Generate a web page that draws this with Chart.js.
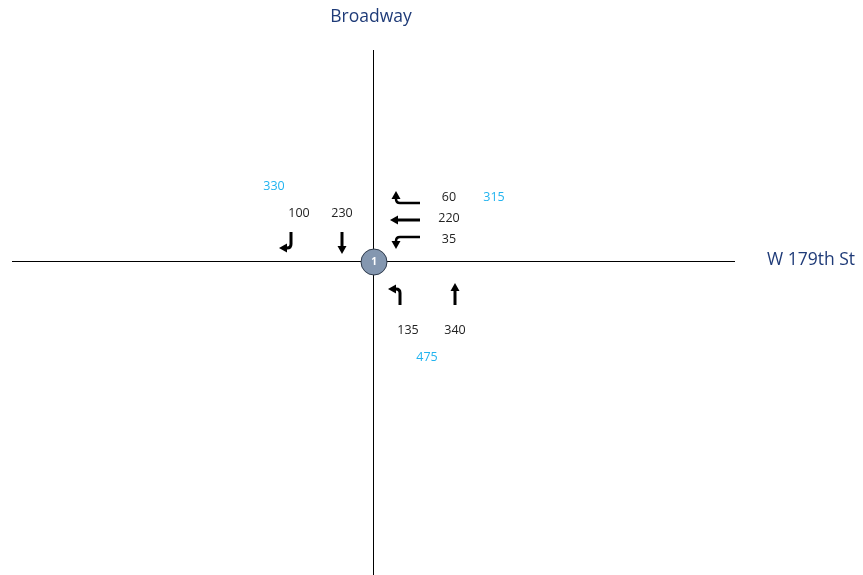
<!DOCTYPE html>
<html>
<head>
<meta charset="utf-8">
<script src="https://cdn.jsdelivr.net/npm/chart.js@4/dist/chart.umd.min.js"></script>
<style>
  html, body { margin: 0; padding: 0; background: #fff; }
  #wrap { position: relative; width: 863px; height: 575px; }
</style>
</head>
<body>
<div id="wrap"><canvas id="c" width="863" height="575"></canvas></div>
<script>
'use strict';

// street names (north-south, east-west)
const streetNames = ['Broadway', 'W 179th St'];
const nodeIds = ['1'];

// southbound approach
const sbMoves = ['right', 'thru'];
const sbVolumes = [100, 230];
const sbTotal = 330;

// westbound approach
const wbMoves = ['right', 'thru', 'left'];
const wbVolumes = [60, 220, 35];
const wbTotal = 315;

// northbound approach
const nbMoves = ['left', 'thru'];
const nbVolumes = [135, 340];
const nbTotal = 475;

// layout (diagram units == pixels of the 863x575 sheet)
const W = 863, H = 575;
const node = {x: 374, y: 262};
const roadNS = [{x: 373.5, y: 50}, {x: 373.5, y: 575}];
const roadEW = [{x: 12, y: 261.5}, {x: 735, y: 261.5}];

const approachLayout = {
    SB: {heading: Math.PI, arrowX: [295, 342], arrowY: 242, labelX: [299, 342], labelY: 213, totalX: 274, totalY: 186},
    WB: {heading: -Math.PI / 2, arrowX: 406, arrowY: [199, 220, 241], labelX: 449, labelY: [197, 218, 239], totalX: 494, totalY: 197},
    NB: {heading: 0, arrowX: [404, 455], arrowY: 295, labelX: [408, 455], labelY: 330, totalX: 427, totalY: 357}
};

const FONT = '"Open Sans", "Liberation Sans", sans-serif';
const NUM_COLOR = '#222222';
const TOTAL_COLOR = '#21B3EF';
const NAME_COLOR = '#1F3B78';

// draw one movement arrow, defined heading north, then rotated
function drawArrow(ctx, x, y, heading, move, horizontal)
{
    ctx.save();
    ctx.translate(x, y);
    ctx.rotate(heading);
    ctx.strokeStyle = '#000';
    ctx.fillStyle = '#000';
    ctx.lineWidth = (horizontal && move !== 'thru') ? 2.5 : 3;
    ctx.lineCap = 'butt';
    const L = horizontal ? 14 : 10;
    const head = (hx, hy, ang) =>
    {
        ctx.save();
        ctx.translate(hx, hy);
        ctx.rotate(ang);
        ctx.beginPath();
        ctx.moveTo(0, -5);
        ctx.lineTo(4.5, 3);
        ctx.lineTo(-4.5, 3);
        ctx.closePath();
        ctx.fill();
        ctx.restore();
    };
    ctx.beginPath();
    if (move === 'thru')
    {
        ctx.moveTo(0, L);
        ctx.lineTo(0, -L + 5);
        ctx.stroke();
        head(0, -L + 3, 0);
    }
    else
    {
        const s = move === 'left' ? -1 : 1;
        const off = horizontal ? -s * 4 : s * 4;
        const top = -L + 4;
        ctx.moveTo(off, L);
        ctx.lineTo(off, top + 4);
        ctx.quadraticCurveTo(off, top, off + s * 4, top);
        ctx.lineTo(off + s * 5, top);
        ctx.stroke();
        head(off + s * 7, top, s * Math.PI / 2);
    }
    ctx.restore();
}

const diagramPlugin = {
    id: 'diagram',
    afterDatasetsDraw(chart)
    {
        const ctx = chart.ctx;
        const sx = chart.scales.x, sy = chart.scales.y;
        const px = v => sx.getPixelForValue(v);
        const py = v => sy.getPixelForValue(v);
        const text = (t, x, y, color, size, weight) =>
        {
            ctx.fillStyle = color;
            ctx.font = (weight || 'normal') + ' ' + size + 'px ' + FONT;
            ctx.fillText(String(t), px(x), py(y));
        };
        ctx.save();
        ctx.textAlign = 'center';
        ctx.textBaseline = 'middle';

        // street names
        text(streetNames[0], 371, 17, NAME_COLOR, 17.5);
        ctx.textAlign = 'left';
        text(streetNames[1], 767, 260, NAME_COLOR, 17.5);
        ctx.textAlign = 'center';

        // node id
        text(nodeIds[0], node.x, node.y, '#fff', 10, 'bold');

        // SB
        let a = approachLayout.SB;
        sbMoves.forEach((m, i) =>
        {
            drawArrow(ctx, px(a.arrowX[i]), py(a.arrowY), a.heading, m, false);
            text(sbVolumes[i], a.labelX[i], a.labelY, NUM_COLOR, 12.5);
        });
        text(sbTotal, a.totalX, a.totalY, TOTAL_COLOR, 12.5);

        // WB
        a = approachLayout.WB;
        wbMoves.forEach((m, i) =>
        {
            drawArrow(ctx, px(a.arrowX), py(a.arrowY[i]), a.heading, m, true);
            text(wbVolumes[i], a.labelX, a.labelY[i], NUM_COLOR, 12.5);
        });
        text(wbTotal, a.totalX, a.totalY, TOTAL_COLOR, 12.5);

        // NB
        a = approachLayout.NB;
        nbMoves.forEach((m, i) =>
        {
            drawArrow(ctx, px(a.arrowX[i]), py(a.arrowY), a.heading, m, false);
            text(nbVolumes[i], a.labelX[i], a.labelY, NUM_COLOR, 12.5);
        });
        text(nbTotal, a.totalX, a.totalY, TOTAL_COLOR, 12.5);

        ctx.restore();
    }
};

new Chart(document.getElementById('c'), {
    type: 'scatter',
    data: {
        datasets: [
            {data: roadNS, showLine: true, borderColor: '#000', borderWidth: 1, pointRadius: 0, order: 2},
            {data: roadEW, showLine: true, borderColor: '#000', borderWidth: 1, pointRadius: 0, order: 2},
            {data: [node], pointRadius: 13, pointBackgroundColor: '#8497B0', pointBorderColor: '#2F3B4C', pointBorderWidth: 1, order: 1}
        ]
    },
    options: {
        responsive: false,
        animation: false,
        layout: {padding: 0, autoPadding: false},
        plugins: {legend: {display: false}, tooltip: {enabled: false}},
        scales: {
            x: {type: 'linear', min: 0, max: W, display: false},
            y: {type: 'linear', min: 0, max: H, reverse: true, display: false}
        }
    },
    plugins: [diagramPlugin]
});
</script>
</body>
</html>
